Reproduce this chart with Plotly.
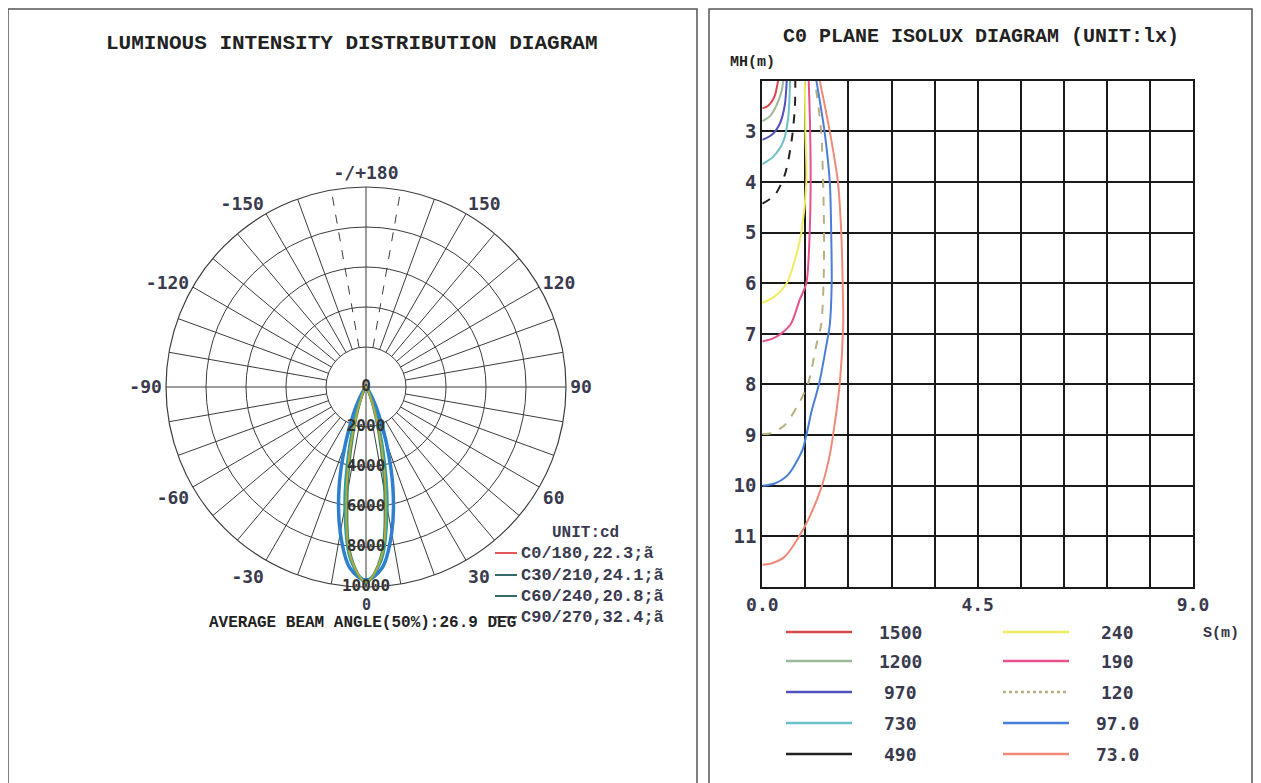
import plotly.graph_objects as go

# ---------------- data ----------------
# Luminous intensity (cd) vs gamma angle (deg) for each C-plane
gamma = [0, 5, 10, 15, 20, 25, 30, 35, 40, 45, 50, 60, 70, 80, 90]
c0_180 = [9750, 8600, 5700, 2900, 1200, 450, 200, 90, 40, 20, 10, 5, 0, 0, 0]
c30_210 = [9700, 8700, 6100, 3300, 1450, 560, 230, 100, 45, 20, 10, 5, 0, 0, 0]
c60_240 = [9800, 8500, 5300, 2500, 1000, 380, 160, 70, 30, 15, 8, 4, 0, 0, 0]
c90_270 = [9650, 9100, 7400, 5200, 3000, 1500, 650, 260, 110, 50, 20, 8, 0, 0, 0]
plane_names = ["C0/180,22.3;ã", "C30/210,24.1;ã", "C60/240,20.8;ã", "C90/270,32.4;ã"]

radial_ticks = [0, 2000, 4000, 6000, 8000, 10000]
angle_tickvals = [0, 30, 60, 90, 120, 150, 180, 210, 240, 270, 300, 330]
angle_ticktext = ["", "30", "60", "90", "120", "150", "-/+180", "-150", "-120", "-90", "-60", "-30"]
bottom_angle_label = "0"

# Isolux curves (C0 plane): S (m) and mounting height MH (m)
iso_levels = ["1500", "1200", "970", "730", "490", "240", "190", "120", "97.0", "73.0"]
iso_1500_s = [0, 0.10, 0.17, 0.26, 0.30, 0.33]
iso_1500_h = [2.545, 2.51, 2.45, 2.30, 2.15, 2.0]
iso_1200_s = [0, 0.16, 0.30, 0.40, 0.44]
iso_1200_h = [2.80, 2.70, 2.48, 2.22, 2.0]
iso_970_s = [0, 0.20, 0.37, 0.47, 0.51]
iso_970_h = [3.17, 3.07, 2.84, 2.48, 2.0]
iso_730_s = [0, 0.23, 0.44, 0.54, 0.58]
iso_730_h = [3.65, 3.50, 3.20, 2.74, 2.0]
iso_490_s = [0, 0.26, 0.47, 0.61, 0.68, 0.69]
iso_490_h = [4.43, 4.26, 3.86, 3.20, 2.54, 2.0]
iso_240_s = [0, 0.26, 0.51, 0.72, 0.82, 0.92, 0.90, 0.89]
iso_240_h = [6.39, 6.26, 6.00, 5.41, 4.98, 4.0, 3.0, 2.0]
iso_190_s = [0, 0.20, 0.40, 0.60, 0.78, 0.92, 0.99, 1.01, 1.00, 0.97]
iso_190_h = [7.15, 7.10, 6.99, 6.80, 6.33, 6.00, 5.0, 4.0, 3.0, 2.0]
iso_120_s = [0, 0.20, 0.47, 0.75, 0.96, 1.13, 1.23, 1.28, 1.29, 1.27, 1.23, 1.10]
iso_120_h = [8.98, 8.96, 8.80, 8.40, 7.97, 7.22, 6.82, 6.0, 5.0, 4.0, 3.0, 2.0]
iso_97_s = [0, 0.27, 0.54, 0.84, 0.92, 1.03, 1.19, 1.34, 1.41, 1.45, 1.44, 1.41, 1.30, 1.13]
iso_97_h = [10.0, 9.95, 9.78, 9.29, 9.0, 8.53, 7.97, 7.22, 6.82, 6.0, 5.0, 4.0, 3.0, 2.0]
iso_73_s = [0, 0.20, 0.47, 0.75, 0.96, 1.24, 1.41, 1.51, 1.62, 1.69, 1.68, 1.65, 1.58, 1.41, 1.20]
iso_73_h = [11.56, 11.53, 11.40, 11.03, 10.67, 10.02, 9.39, 8.80, 7.97, 6.82, 6.0, 5.0, 4.0, 3.0, 2.0]

x_tickvals = [0, 0.9, 1.8, 2.7, 3.6, 4.5, 5.4, 6.3, 7.2, 8.1, 9.0]
x_ticktext = ["0.0", "", "", "", "", "4.5", "", "", "", "", "9.0"]
y_tickvals = [2, 3, 4, 5, 6, 7, 8, 9, 10, 11, 12]
y_ticktext = ["", "3", "4", "5", "6", "7", "8", "9", "10", "11", ""]

# ---------------- figure ----------------
W, H = 1261, 783
OFF = 8  # page body margin


def fx(x):
    return (x - OFF) / W


def fy(y):
    return 1 - (y - OFF) / H


fig = go.Figure()
DARK = "#3a3a4e"

# polar grid spokes (from inner ring outward, every 10 deg)
spoke_t, spoke_r, dash_t, dash_r = [], [], [], []
for a in range(0, 360, 10):
    if a in (0, 90, 180, 270):
        spoke_t += [a, a, None]
        spoke_r += [0, 10000, None]
    elif a in (170, 190):
        dash_t += [a, a, None]
        dash_r += [2000, 10000, None]
    else:
        spoke_t += [a, a, None]
        spoke_r += [2000, 10000, None]
fig.add_trace(go.Scatterpolar(theta=spoke_t, r=spoke_r, mode="lines",
                              line=dict(color="#3c3c3c", width=1), hoverinfo="skip", showlegend=False))
fig.add_trace(go.Scatterpolar(theta=dash_t, r=dash_r, mode="lines",
                              line=dict(color="#3c3c3c", width=1, dash="dash"), hoverinfo="skip", showlegend=False))


def lobe(vals):
    th = [-g for g in reversed(gamma)] + gamma[1:]
    rr = list(reversed(vals)) + vals[1:]
    return th, rr


lobe_styles = [
    (c90_270, "#2f7fd0", 3.5),
    (c30_210, "#23a0a6", 3.0),
    (c60_240, "#2e8a62", 2.2),
    (c0_180, "#b8a640", 2.0),
]
for vals, col, w in lobe_styles:
    th, rr = lobe(vals)
    fig.add_trace(go.Scatterpolar(theta=th, r=rr, mode="lines", line=dict(color=col, width=w, shape="spline"),
                                  hoverinfo="skip", showlegend=False))

fig.add_trace(go.Scatterpolar(theta=[0] * len(radial_ticks), r=radial_ticks, mode="text",
                              text=[str(v) for v in radial_ticks],
                              textfont=dict(family="DejaVu Sans Mono", size=16, color="#333333", weight="bold"),
                              hoverinfo="skip", showlegend=False))

fig.update_layout(
    polar=dict(
        domain=dict(x=[fx(166), fx(566)], y=[fy(587), fy(187)]),
        bgcolor="white",
        radialaxis=dict(range=[0, 10000], tickvals=[2000, 4000, 6000, 8000], showticklabels=False,
                        showline=False, ticks="", gridcolor="#3c3c3c", gridwidth=1),
        angularaxis=dict(rotation=-90, direction="counterclockwise", tickmode="array",
                         tickvals=angle_tickvals, ticktext=angle_ticktext, showgrid=False,
                         showline=True, linecolor="#3c3c3c", linewidth=1.2, ticks="",
                         tickfont=dict(family="DejaVu Sans Mono", size=18, color=DARK, weight="bold")),
    )
)

# isolux curves
iso_data = [
    (iso_1500_s, iso_1500_h, "#d84848", "solid"),
    (iso_1200_s, iso_1200_h, "#9cb89c", "solid"),
    (iso_970_s, iso_970_h, "#5050c0", "solid"),
    (iso_730_s, iso_730_h, "#6cc0c8", "solid"),
    (iso_490_s, iso_490_h, "#222222", "dash"),
    (iso_240_s, iso_240_h, "#f0ec60", "solid"),
    (iso_190_s, iso_190_h, "#e8508c", "solid"),
    (iso_120_s, iso_120_h, "#b8b080", "dash"),
    (iso_97_s, iso_97_h, "#4a7ed8", "solid"),
    (iso_73_s, iso_73_h, "#f08a78", "solid"),
]
for (s, h, col, dash), name in zip(iso_data, iso_levels):
    fig.add_trace(go.Scatter(x=s, y=h, mode="lines", name=name,
                             line=dict(color=col, width=2, dash=dash, shape="spline", smoothing=0.8),
                             hoverinfo="skip", showlegend=False, xaxis="x", yaxis="y"))

GRID = "#1a1a1a"
fig.update_layout(
    xaxis=dict(domain=[fx(762.3), fx(1193)], range=[0, 9], tickmode="array", tickvals=x_tickvals,
               ticktext=x_ticktext, showgrid=True, gridcolor=GRID, gridwidth=1.6, zeroline=False,
               showline=True, linecolor=GRID, linewidth=2, mirror=True, ticks="", automargin=False,
               tickfont=dict(family="DejaVu Sans Mono", size=18, color=DARK, weight="bold"), anchor="y"),
    yaxis=dict(domain=[fy(587), fy(80.7)], range=[12, 2], tickmode="array", tickvals=y_tickvals,
               ticktext=y_ticktext, showgrid=True, gridcolor=GRID, gridwidth=1.6, zeroline=False,
               showline=True, linecolor=GRID, linewidth=2, mirror=True, ticks="", automargin=False,
               tickfont=dict(family="DejaVu Sans Mono", size=19, color=DARK, weight="bold"), anchor="x"),
    plot_bgcolor="white",
)

shapes = []
annotations = []
# panel frames
shapes.append(dict(type="rect", xref="paper", yref="paper", x0=fx(8), x1=fx(697), y0=-0.02, y1=fy(9),
                   line=dict(color="#555555", width=1.5)))
shapes.append(dict(type="rect", xref="paper", yref="paper", x0=fx(709), x1=fx(1252), y0=-0.02, y1=fy(9),
                   line=dict(color="#555555", width=1.5)))


def text(x, y, t, size, family="Liberation Mono", xanchor="center", color="#222222", bold=True):
    annotations.append(dict(x=fx(x), y=fy(y), xref="paper", yref="paper", text=t, showarrow=False,
                            xanchor=xanchor, yanchor="middle", borderpad=0,
                            font=dict(family=family, size=size, color=color, weight="bold" if bold else "normal")))


text(352, 44, "LUMINOUS INTENSITY DISTRIBUTION DIAGRAM", 21)
text(981, 37, "C0 PLANE ISOLUX DIAGRAM (UNIT:lx)", 20)
text(752, 62, "MH(m)", 15, color="#222222")
text(1221, 633, "S(m)", 15, color="#333344")
text(366, 605, bottom_angle_label, 15, family="DejaVu Sans Mono", color=DARK)
text(362, 623, "AVERAGE BEAM ANGLE(50%):26.9 DEG", 16)

# polar legend
text(585, 533, "UNIT:cd", 16, color="#3a3a50")
leg_cols = ["#e04848", "#1e5a5a", "#1e5a5a", "#555555"]
leg_rows = [553, 575, 596, 617]
for name, col, yy in zip(plane_names, leg_cols, leg_rows):
    shapes.append(dict(type="line", xref="paper", yref="paper", x0=fx(495), x1=fx(517), y0=fy(yy), y1=fy(yy),
                       line=dict(color=col, width=1.8)))
    text(520, yy, name, 17, xanchor="left", color="#3a3a50")

# isolux legend
rows = [632, 661, 692, 723, 754]
for i, ((s, h, col, dash), name) in enumerate(zip(iso_data, iso_levels)):
    col_i = i // 5
    yy = rows[i % 5]
    x0, x1, tx = (786, 852, 900) if col_i == 0 else (1003, 1069, 1117)
    shapes.append(dict(type="line", xref="paper", yref="paper", x0=fx(x0), x1=fx(x1), y0=fy(yy), y1=fy(yy),
                       line=dict(color=col, width=2.5, dash="dot" if name == "120" else "solid")))
    text(tx, yy, name, 18, family="DejaVu Sans Mono", color="#3a3a4e")

fig.update_layout(shapes=shapes, annotations=annotations, width=W, height=H,
                  margin=dict(l=0, r=0, t=0, b=0, autoexpand=False), paper_bgcolor="white", showlegend=False)

fig.write_html("out.html")
